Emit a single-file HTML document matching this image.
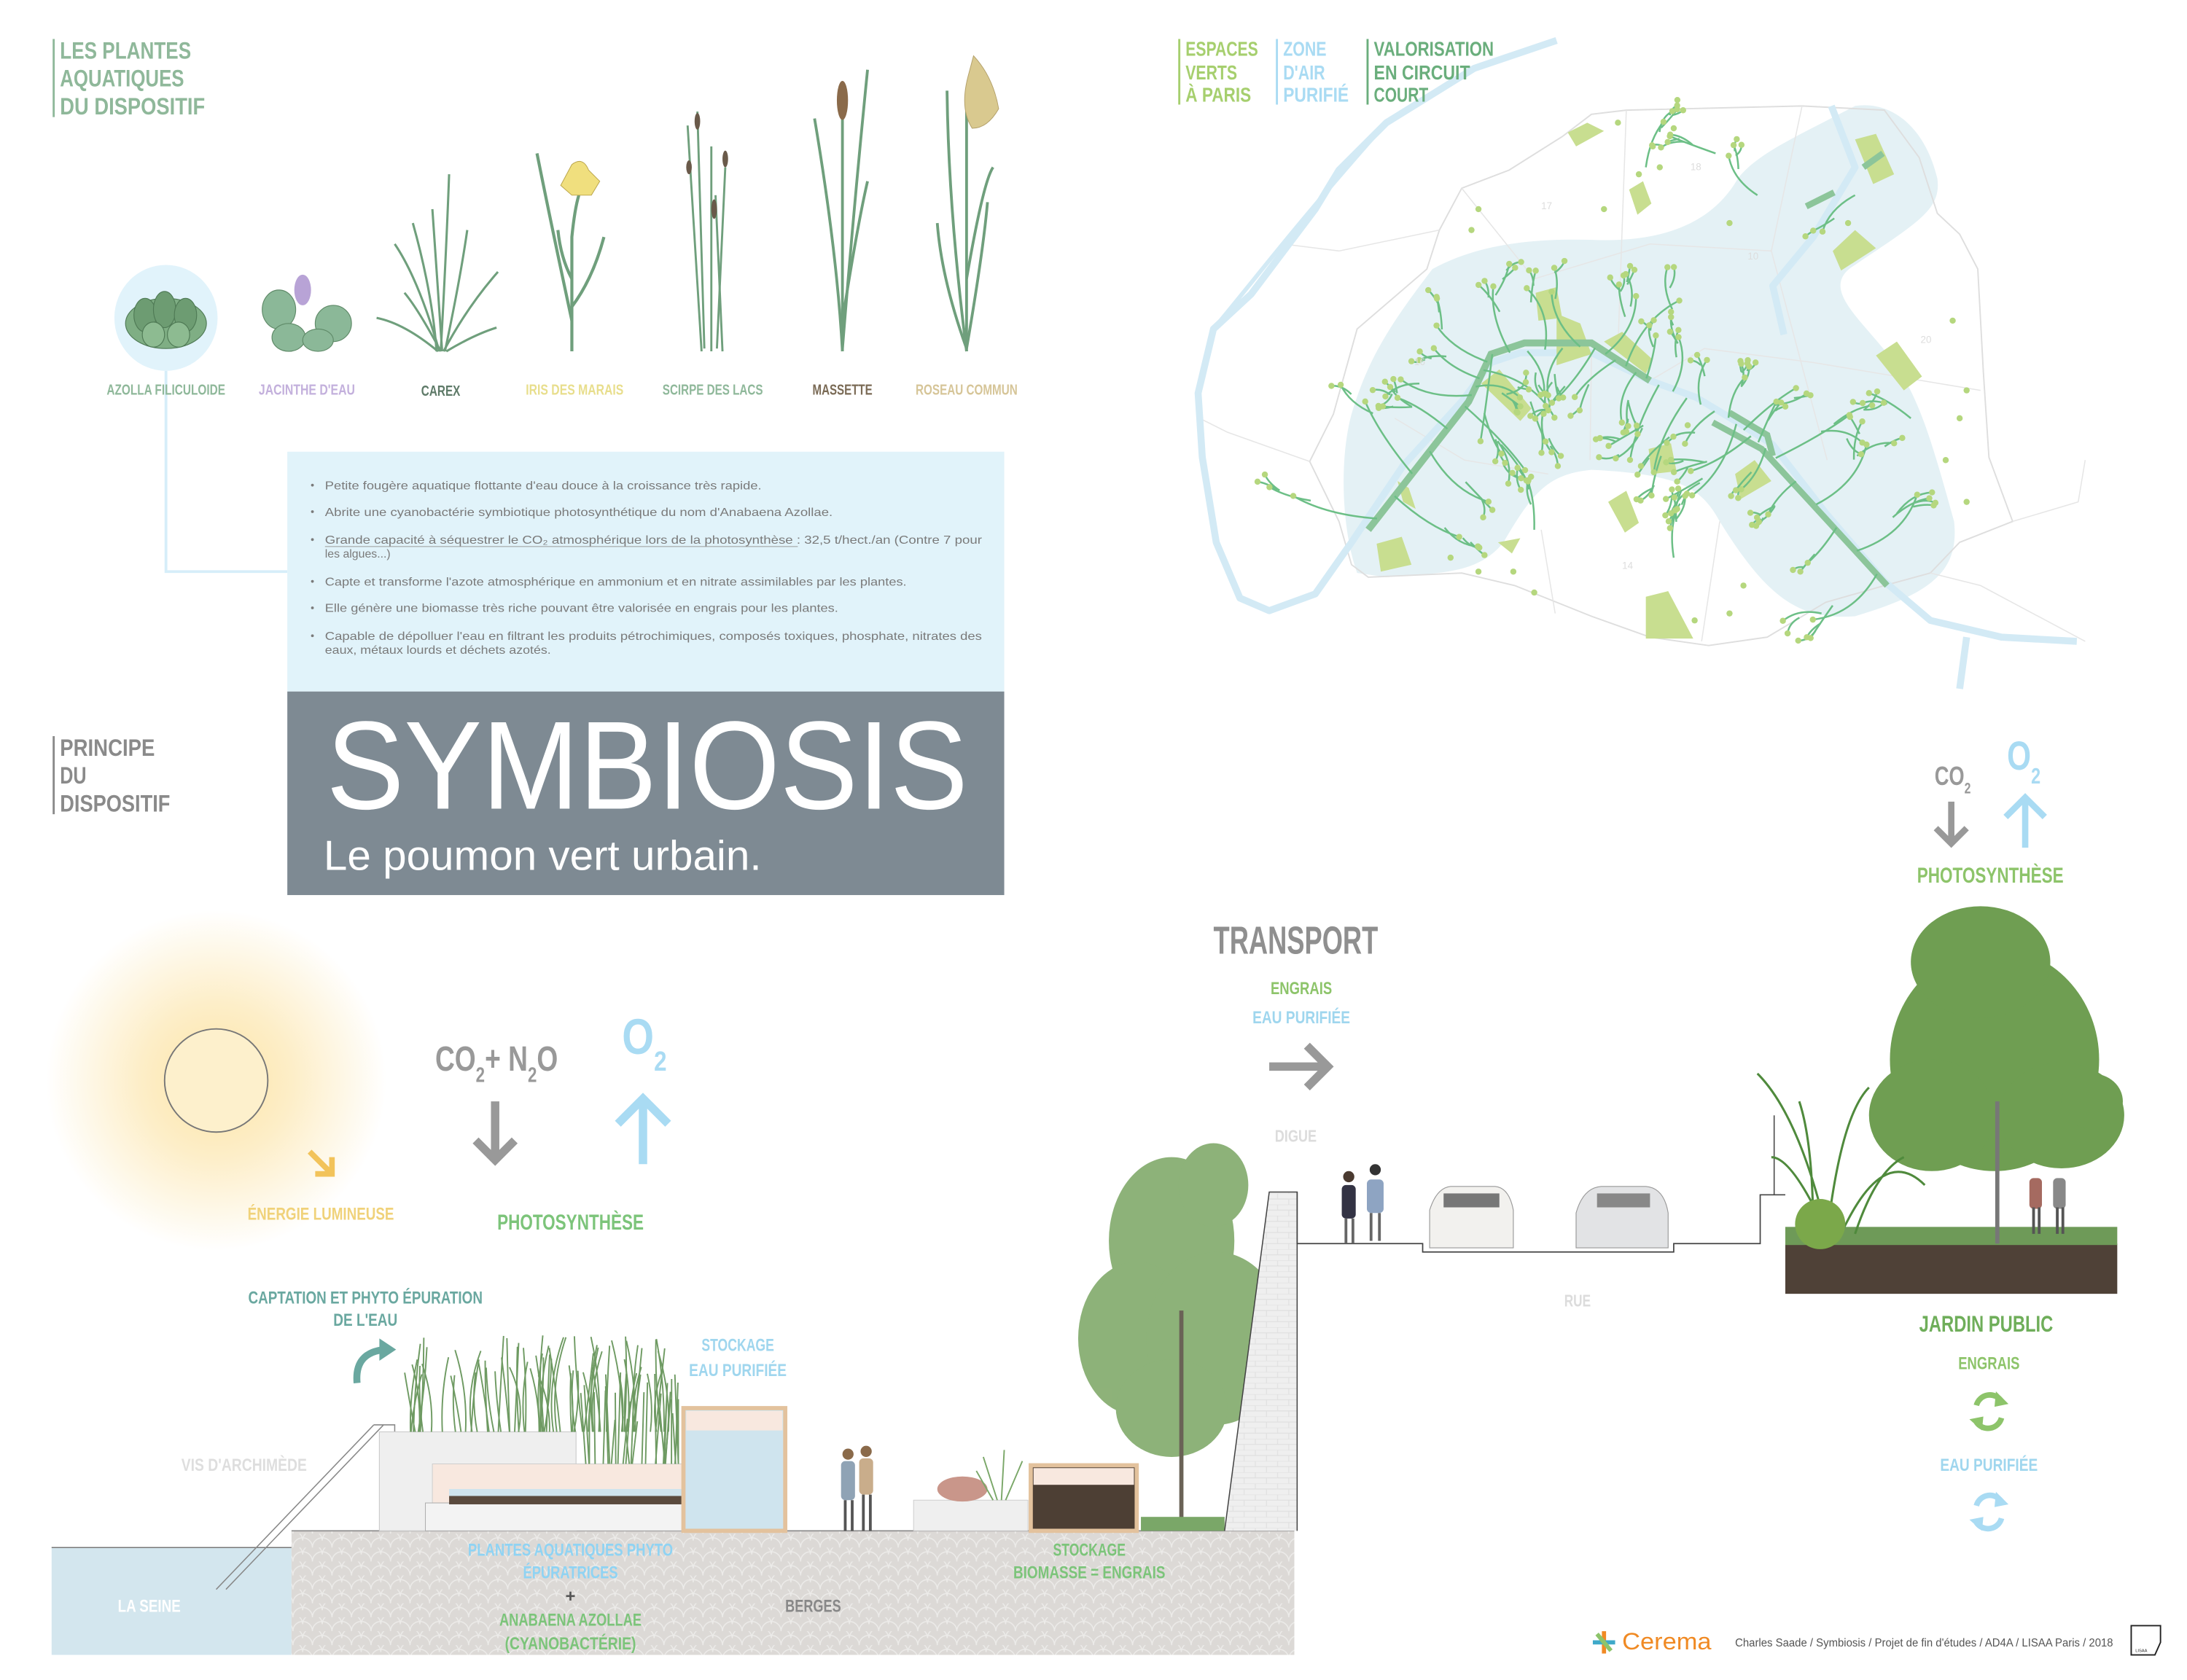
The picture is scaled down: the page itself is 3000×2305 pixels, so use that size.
<!DOCTYPE html>
<html><head><meta charset="utf-8">
<style>
html,body{margin:0;padding:0;background:#fff;}
svg{display:block;}
.c{font-family:"Liberation Sans Narrow","Liberation Sans",sans-serif;font-weight:bold;}
.l{font-family:"Liberation Sans",sans-serif;}
</style></head>
<body>
<svg id="s" width="3000" height="2305" viewBox="0 0 1568 1205" preserveAspectRatio="none" xmlns="http://www.w3.org/2000/svg">
<defs>
<radialGradient id="sun" cx="50%" cy="50%" r="50%">
<stop offset="0" stop-color="#fde4a6"/><stop offset="0.45" stop-color="#fdeec8"/><stop offset="1" stop-color="#ffffff"/>
</radialGradient>
<pattern id="pav" width="14" height="10" patternUnits="userSpaceOnUse">
<rect width="14" height="10" fill="#dcd9d6"/>
<path d="M0 10 A7 7 0 0 1 14 10 M-7 5 A7 7 0 0 1 7 5 M7 5 A7 7 0 0 1 21 5" fill="none" stroke="#ecebe9" stroke-width="0.8"/>
</pattern>
<pattern id="brick" width="16" height="8" patternUnits="userSpaceOnUse">
<rect width="16" height="8" fill="#efefef"/><path d="M0 0H16M0 4H16M4 0V4M12 4V8" stroke="#e0e0e0" stroke-width="0.6"/>
</pattern>
</defs>

<!-- TOP LEFT HEADER -->
<line x1="38.5" y1="28" x2="38.5" y2="84" stroke="#8fb89a" stroke-width="1.5"/>
<g class="c" fill="#8fb89a" font-size="17">
<text x="43" y="42" textLength="94" lengthAdjust="spacingAndGlyphs">LES PLANTES</text>
<text x="43" y="62" textLength="89" lengthAdjust="spacingAndGlyphs">AQUATIQUES</text>
<text x="43" y="82" textLength="104" lengthAdjust="spacingAndGlyphs">DU DISPOSITIF</text>
</g>

<!-- azolla -->
<ellipse cx="119" cy="228" rx="37" ry="38" fill="#e1f3fb"/>
<g fill="#6d9c72" stroke="#4f7a55" stroke-width="0.6">
<ellipse cx="119" cy="232" rx="29" ry="18" fill="#7fae84"/>
<ellipse cx="104" cy="226" rx="8" ry="12"/><ellipse cx="118" cy="222" rx="8" ry="13"/><ellipse cx="133" cy="226" rx="8" ry="12"/>
<ellipse cx="110" cy="240" rx="8" ry="9" fill="#8dbb91"/><ellipse cx="128" cy="240" rx="8" ry="9" fill="#8dbb91"/>
</g>
<polyline points="119,266 119,410 206,410" fill="none" stroke="#d6eef9" stroke-width="2"/>

<!-- jacinthe -->
<g stroke="#5f8a68" stroke-width="0.6" fill="#8bb898">
<ellipse cx="200" cy="222" rx="12" ry="14"/><ellipse cx="239" cy="232" rx="13" ry="13"/><ellipse cx="207" cy="242" rx="12" ry="10"/><ellipse cx="228" cy="244" rx="11" ry="8"/>
</g>
<ellipse cx="217" cy="208" rx="6" ry="11" fill="#b8a3d6"/>
<!-- carex -->
<g stroke="#6f9f7c" stroke-width="1.6" fill="none">
<path d="M315 252 Q300 200 283 175"/><path d="M316 252 Q320 180 322 125"/><path d="M317 252 Q312 180 310 150"/>
<path d="M318 252 Q335 220 357 195"/><path d="M314 252 Q290 232 270 228"/><path d="M319 252 Q330 200 335 165"/>
<path d="M316 252 Q300 222 290 210"/><path d="M320 252 Q340 240 356 235"/><path d="M313 252 Q310 210 296 160"/>
</g>
<!-- iris -->
<g stroke="#6f9f7c" stroke-width="2.2" fill="none">
<path d="M410 252 L410 170 Q412 150 415 140"/><path d="M410 230 Q395 160 385 110"/><path d="M410 220 Q425 200 433 170"/><path d="M410 200 Q402 185 400 165"/>
</g>
<path d="M410 118 Q418 112 422 122 L430 130 L424 140 L410 140 L402 133 Z" fill="#f0df7e" stroke="#b9a44a" stroke-width="0.5"/>
<!-- scirpe -->
<g stroke="#6f9f7c" stroke-width="1.5" fill="none">
<path d="M505 250 L500 80"/><path d="M510 252 L510 105"/><path d="M514 250 L520 120"/><path d="M503 252 L493 90"/><path d="M518 252 L513 140"/>
</g>
<g fill="#6a5a4a"><ellipse cx="500" cy="87" rx="2" ry="6"/><ellipse cx="512" cy="150" rx="2" ry="7"/><ellipse cx="520" cy="114" rx="2" ry="6"/><ellipse cx="494" cy="120" rx="2" ry="5"/></g>
<!-- massette -->
<g stroke="#6f9f7c" stroke-width="2" fill="none">
<path d="M604 252 L604 75"/><path d="M604 252 Q600 180 584 85"/><path d="M604 250 Q612 150 622 50"/><path d="M604 230 Q615 160 622 130"/>
</g>
<ellipse cx="604" cy="72" rx="4" ry="14" fill="#8a6a4a"/>
<!-- roseau -->
<g stroke="#6f9f7c" stroke-width="2" fill="none">
<path d="M693 252 L693 80"/><path d="M693 252 Q680 150 679 65"/><path d="M693 250 Q705 180 708 145"/><path d="M693 250 Q675 200 672 160"/><path d="M693 200 Q705 130 712 120"/>
</g>
<path d="M698 40 Q712 55 716 78 Q708 92 697 92 Q688 78 694 55 Z" fill="#d9c98f" stroke="#b3a06a" stroke-width="0.5"/>

<g class="c" font-size="10.5" text-anchor="middle">
<text x="119" y="283" fill="#8fb89a" textLength="85" lengthAdjust="spacingAndGlyphs">AZOLLA FILICULOIDE</text>
<text x="220" y="283" fill="#c3b0dc" textLength="69" lengthAdjust="spacingAndGlyphs">JACINTHE D'EAU</text>
<text x="316" y="284" fill="#5e7a68" textLength="28" lengthAdjust="spacingAndGlyphs">CAREX</text>
<text x="412" y="283" fill="#e8de8c" textLength="70" lengthAdjust="spacingAndGlyphs">IRIS DES MARAIS</text>
<text x="511" y="283" fill="#8fb89a" textLength="72" lengthAdjust="spacingAndGlyphs">SCIRPE DES LACS</text>
<text x="604" y="283" fill="#7a6a55" textLength="43" lengthAdjust="spacingAndGlyphs">MASSETTE</text>
<text x="693" y="283" fill="#d6c598" textLength="73" lengthAdjust="spacingAndGlyphs">ROSEAU COMMUN</text>
</g>

<!-- INFO BOX -->
<rect x="206" y="324" width="514" height="172" fill="#e1f3fa"/>
<g class="l" font-size="8.3" fill="#7a7a7a">
<circle cx="224" cy="348" r="1"/><text x="233" y="351" textLength="313" lengthAdjust="spacingAndGlyphs">Petite fougère aquatique flottante d'eau douce à la croissance très rapide.</text>
<circle cx="224" cy="367" r="1"/><text x="233" y="370" textLength="364" lengthAdjust="spacingAndGlyphs">Abrite une cyanobactérie symbiotique photosynthétique du nom d'Anabaena Azollae.</text>
<circle cx="224" cy="387" r="1"/><text x="233" y="390" textLength="471" lengthAdjust="spacingAndGlyphs">Grande capacité à séquestrer le CO₂ atmosphérique lors de la photosynthèse : 32,5 t/hect./an (Contre 7 pour</text>
<line x1="233" y1="392" x2="572" y2="392" stroke="#9a9a9a" stroke-width="0.5"/>
<text x="233" y="400">les algues...)</text>
<circle cx="224" cy="417" r="1"/><text x="233" y="420" textLength="417" lengthAdjust="spacingAndGlyphs">Capte et transforme l'azote atmosphérique en ammonium et en nitrate assimilables par les plantes.</text>
<circle cx="224" cy="436" r="1"/><text x="233" y="439" textLength="368" lengthAdjust="spacingAndGlyphs">Elle génère une biomasse très riche pouvant être valorisée en engrais pour les plantes.</text>
<circle cx="224" cy="456" r="1"/><text x="233" y="459" textLength="471" lengthAdjust="spacingAndGlyphs">Capable de dépolluer l'eau en filtrant les produits pétrochimiques, composés toxiques, phosphate, nitrates des</text>
<text x="233" y="469" textLength="162" lengthAdjust="spacingAndGlyphs">eaux, métaux lourds et déchets azotés.</text>
</g>
<rect x="206" y="496" width="514" height="146" fill="#7e8a93"/>
<text class="l" x="234" y="580" font-size="90" fill="#fff" textLength="460" lengthAdjust="spacingAndGlyphs">SYMBIOSIS</text>
<text class="l" x="232" y="624" font-size="30" fill="#fff" textLength="314" lengthAdjust="spacingAndGlyphs">Le poumon vert urbain.</text>

<!-- PRINCIPE -->
<line x1="38.5" y1="528" x2="38.5" y2="584" stroke="#8a8a8a" stroke-width="1.5"/>
<g class="c" fill="#8a8a8a" font-size="17">
<text x="43" y="542" textLength="68" lengthAdjust="spacingAndGlyphs">PRINCIPE</text>
<text x="43" y="562" textLength="19" lengthAdjust="spacingAndGlyphs">DU</text>
<text x="43" y="582" textLength="79" lengthAdjust="spacingAndGlyphs">DISPOSITIF</text>
</g>

<!-- MAP -->
<g id="map">
<path d="M973,411 C962,380 960,330 969,297 C980,260 994,236 1027,193 C1060,175 1099,171 1140,172 C1183,174 1225,165 1246,128 C1260,110 1288,98 1330,76 C1355,72 1380,90 1389,128 C1392,150 1376,159 1330,190 C1305,205 1330,225 1351,251 C1375,280 1384,313 1401,374 C1405,410 1384,426 1330,442 C1290,445 1267,429 1233,374 C1220,350 1204,340 1141,337 C1110,340 1099,353 1078,389 C1060,411 1036,411 994,414 Z" fill="#e4f1f5"/>
<path d="M1032,165 L1048,135 L1082,122 L1120,98 L1141,82 L1166,79 L1292,76 L1351,79 L1376,113 L1389,153 L1405,168 L1418,193 L1422,267 L1426,328 L1443,374 L1405,389 L1384,411 L1351,420 L1309,432 L1267,457 L1225,463 L1183,457 L1141,442 L1086,420 L1048,411 L981,414 L969,405 L960,374 L939,331 L956,297 L973,236 L1023,193 Z" fill="none" stroke="#dedede" stroke-width="1"/>
<g stroke="#e6e6e6" stroke-width="0.8" fill="none">
<path d="M1166,79 L1160,250 M1048,135 L1100,200 L1183,175 L1270,180 M1032,165 L960,180 L920,175 M939,331 L880,310 L860,300 M1141,253 L1140,330 M1233,374 L1220,460 M1270,180 L1310,330 M1183,273 L1222,250 L1300,260 L1420,280 M1292,76 L1270,180 M1443,374 L1490,360 L1495,330 M1384,411 L1420,420 L1495,460 M1105,380 L1115,440 M1000,300 L1050,330 L1110,340"/>
</g>
<path id="river" d="M1116,29 L1057,49 L994,88 L960,122 L943,150 L897,211 L870,236 L859,282 L862,328 L872,389 L889,429 L910,438 L943,426 L969,389 L1006,334 L1048,288 L1069,260 L1090,253 L1141,253 L1183,273 L1216,285 L1246,303 L1271,319 L1309,368 L1351,417 L1384,445 L1435,457 L1489,460 M1410,457 L1405,494 M1313,76 L1330,120 L1300,170 L1271,205 L1279,240" fill="none" stroke="#d3eaf5" stroke-width="5" stroke-linejoin="round"/>
<path d="M870,236 C900,200 930,160 994,88" fill="none" stroke="#d3eaf5" stroke-width="3"/>
<g fill="#c8de90">
<polygon points="1124,95 1138,88 1150,94 1130,105"/><polygon points="1168,136 1178,130 1184,146 1174,154"/>
<polygon points="1101,210 1116,206 1120,228 1103,230"/><polygon points="1116,225 1133,232 1141,254 1116,262"/>
<polygon points="1062,275 1075,265 1098,293 1090,302"/><polygon points="1150,245 1163,238 1185,258 1180,268"/>
<polygon points="1182,322 1198,318 1202,338 1184,340"/><polygon points="1153,360 1166,352 1175,375 1165,382"/>
<polygon points="1244,340 1258,330 1270,345 1248,358"/><polygon points="1345,255 1360,245 1378,270 1365,280"/>
<polygon points="1330,100 1345,96 1358,125 1343,132"/><polygon points="1314,180 1330,165 1345,178 1320,194"/>
<polygon points="987,390 1005,385 1012,405 990,410"/><polygon points="1074,389 1090,386 1084,397"/>
<polygon points="1180,428 1196,424 1214,458 1180,458"/><polygon points="1002,345 1010,350 1015,365 1006,360"/>
</g>
<path d="M981,380 L1053,288 L1069,254 L1093,246 L1141,246 L1183,273" fill="none" stroke="#8cc59a" stroke-width="5"/>
<path d="M1240,296 L1267,312 L1271,327 M1228,303 L1263,322 L1353,420" fill="none" stroke="#8cc59a" stroke-width="4.5"/>
<path d="M1295,148 L1315,138 M1336,120 L1350,110" stroke="#8cc59a" stroke-width="4.5"/>
<g id="br" fill="none" stroke="#6cbf86" stroke-width="1.3"></g>
<g id="dots" fill="#b5d77e"></g>
<text x="1105" y="150" font-size="7" fill="#ddd" class="l">17</text><text x="1212" y="122" font-size="7" fill="#ddd" class="l">18</text>
<text x="1253" y="186" font-size="7" fill="#ddd" class="l">10</text><text x="1377" y="246" font-size="7" fill="#ddd" class="l">20</text>
<text x="1014" y="262" font-size="7" fill="#ddd" class="l">16</text><text x="1163" y="408" font-size="7" fill="#ddd" class="l">14</text>
</g>
<!-- map legend -->
<line x1="845.5" y1="28" x2="845.5" y2="75" stroke="#a6cf6e" stroke-width="1.5"/>
<line x1="915.5" y1="28" x2="915.5" y2="75" stroke="#a9dbf3" stroke-width="1.5"/>
<line x1="980.5" y1="28" x2="980.5" y2="75" stroke="#6aae7c" stroke-width="1.5"/>
<g class="c" font-size="14.5">
<g fill="#a6cf6e"><text x="850" y="40" textLength="52" lengthAdjust="spacingAndGlyphs">ESPACES</text><text x="850" y="57" textLength="37" lengthAdjust="spacingAndGlyphs">VERTS</text><text x="850" y="73" textLength="47" lengthAdjust="spacingAndGlyphs">À PARIS</text></g>
<g fill="#a9dbf3"><text x="920" y="40" textLength="31" lengthAdjust="spacingAndGlyphs">ZONE</text><text x="920" y="57" textLength="30" lengthAdjust="spacingAndGlyphs">D'AIR</text><text x="920" y="73" textLength="47" lengthAdjust="spacingAndGlyphs">PURIFIÉ</text></g>
<g fill="#6aae7c"><text x="985" y="40" textLength="86" lengthAdjust="spacingAndGlyphs">VALORISATION</text><text x="985" y="57" textLength="69" lengthAdjust="spacingAndGlyphs">EN CIRCUIT</text><text x="985" y="73" textLength="39" lengthAdjust="spacingAndGlyphs">COURT</text></g>
</g>

<!-- SUN -->
<circle cx="155" cy="775" r="122" fill="url(#sun)"/>
<circle cx="155" cy="775" r="37" fill="#fdf0cc" stroke="#777" stroke-width="1"/>
<path d="M222 826 L238 842 M238 830 V842 H226" stroke="#f2c35a" stroke-width="4" fill="none"/>
<text class="c" x="230" y="875" font-size="12.5" fill="#f0d27a" text-anchor="middle" textLength="105" lengthAdjust="spacingAndGlyphs">ÉNERGIE LUMINEUSE</text>
<text class="c" x="312" y="768" font-size="25" fill="#999" textLength="88" lengthAdjust="spacingAndGlyphs">CO<tspan font-size="15" dy="8">2</tspan><tspan dy="-8">+ N</tspan><tspan font-size="15" dy="8">2</tspan><tspan dy="-8">O</tspan></text>
<text class="c" x="446" y="756" font-size="36" fill="#a9dbf3" textLength="32" lengthAdjust="spacingAndGlyphs">O<tspan font-size="20" dy="12">2</tspan></text>
<path d="M355 790 V832 M341 818 L355 832 L369 818" stroke="#999" stroke-width="6" fill="none"/>
<path d="M461 835 V788 M443 806 L461 788 L479 806" stroke="#a9dbf3" stroke-width="6" fill="none"/>
<text class="c" x="409" y="882" font-size="15.5" fill="#7cc47a" text-anchor="middle" textLength="105" lengthAdjust="spacingAndGlyphs">PHOTOSYNTHÈSE</text>

<!-- SECTION LEFT -->
<g class="c" font-size="12.5" text-anchor="middle">
<text x="262" y="935" fill="#6aa8a0" textLength="168" lengthAdjust="spacingAndGlyphs">CAPTATION ET PHYTO ÉPURATION</text>
<text x="262" y="951" fill="#6aa8a0" textLength="46" lengthAdjust="spacingAndGlyphs">DE L'EAU</text>
<text x="529" y="969" fill="#9fd6ee" textLength="52" lengthAdjust="spacingAndGlyphs">STOCKAGE</text>
<text x="529" y="987" fill="#9fd6ee" textLength="70" lengthAdjust="spacingAndGlyphs">EAU PURIFIÉE</text>
<text x="175" y="1055" fill="#dedede" textLength="90" lengthAdjust="spacingAndGlyphs">VIS D'ARCHIMÈDE</text>
</g>
<path d="M256 992 Q254 970 276 968" stroke="#6aa8a0" stroke-width="5" fill="none"/><path d="M272 960 L284 968 L272 976 Z" fill="#6aa8a0"/>

<rect x="37" y="1110" width="172" height="77" fill="#d3e6ee"/>
<line x1="37" y1="1110" x2="209" y2="1110" stroke="#777" stroke-width="0.8"/>
<rect x="209" y="1098" width="719" height="89" fill="url(#pav)"/>
<line x1="209" y1="1098" x2="928" y2="1098" stroke="#888" stroke-width="0.8"/>
<!-- screw -->
<path d="M155 1140 L268 1022 M162 1140 L275 1022 M268 1022 H283 V1029" stroke="#888" stroke-width="0.8" fill="none"/>
<rect x="272" y="1027" width="141" height="71" fill="#efefef" stroke="#ccc" stroke-width="0.6"/>
<rect x="310" y="1050" width="180" height="28" fill="#f8e8df" stroke="#ccc" stroke-width="0.5"/>
<rect x="305" y="1078" width="188" height="20" fill="#f3f3f3" stroke="#aaa" stroke-width="0.5"/>
<rect x="322" y="1073" width="168" height="6" fill="#5a4a3e"/>
<rect x="322" y="1068" width="168" height="5" fill="#cfe4ee"/>
<g stroke="#6e9a62" stroke-width="1" fill="none" id="reeds"></g>
<rect x="490" y="1010" width="73" height="88" fill="#cfe4ee" stroke="#e3c29d" stroke-width="3"/>
<rect x="492" y="1012" width="69" height="14" fill="#f8e8df"/>
<rect x="655" y="1076" width="82" height="22" fill="#efefef" stroke="#ccc" stroke-width="0.5"/>
<rect x="739" y="1051" width="76" height="47" fill="#4d3f34" stroke="#e3c29d" stroke-width="3"/>
<rect x="741" y="1053" width="72" height="12" fill="#f8e8df"/>
<!-- people -->
<g fill="#8fa3b5"><rect x="603" y="1048" width="10" height="28" rx="3"/><rect x="616" y="1046" width="10" height="26" rx="3" fill="#c9ad8b"/></g>
<g stroke="#555" stroke-width="2"><path d="M606 1076 V1098 M611 1076 V1098 M619 1072 V1098 M624 1072 V1098"/></g>
<circle cx="608" cy="1043" r="4" fill="#8a6a4a"/><circle cx="621" cy="1041" r="4" fill="#8a6a4a"/>
<ellipse cx="690" cy="1068" rx="18" ry="9" fill="#c9968a"/>
<g stroke="#7aa768" stroke-width="1"><path d="M715 1076 L705 1045 M718 1076 L720 1040 M721 1076 L733 1048 M712 1076 L700 1055"/></g>
<!-- left tree -->
<g fill="#7aa562" opacity="0.85">
<ellipse cx="840" cy="890" rx="45" ry="60"/><ellipse cx="815" cy="960" rx="42" ry="55"/><ellipse cx="872" cy="960" rx="50" ry="62"/><ellipse cx="840" cy="1010" rx="40" ry="35"/><ellipse cx="870" cy="850" rx="25" ry="30"/>
</g>
<line x1="847" y1="1095" x2="847" y2="940" stroke="#6a6256" stroke-width="3"/>
<rect x="818" y="1088" width="60" height="10" fill="#7aa768"/>
<!-- wall -->
<polygon points="878,1098 910,855 930,855 930,1098" fill="url(#brick)"/>
<path d="M878 1098 L910 855 H930 V1098" fill="none" stroke="#444" stroke-width="0.8"/>
<text class="c" x="929" y="819" font-size="12" fill="#dcdcdc" text-anchor="middle" textLength="30" lengthAdjust="spacingAndGlyphs">DIGUE</text>

<!-- TRANSPORT -->
<text class="c" x="870" y="684" font-size="28" fill="#8f8f8f" textLength="118" lengthAdjust="spacingAndGlyphs">TRANSPORT</text>
<text class="c" x="933" y="713" font-size="12.5" fill="#8dc46a" text-anchor="middle" textLength="44" lengthAdjust="spacingAndGlyphs">ENGRAIS</text>
<text class="c" x="933" y="734" font-size="12.5" fill="#9fd6ee" text-anchor="middle" textLength="70" lengthAdjust="spacingAndGlyphs">EAU PURIFIÉE</text>
<path d="M910 765 H952 M937 750 L952 765 L937 780" stroke="#999" stroke-width="6" fill="none"/>
<!-- street -->
<polyline points="930,855 930,892 1020,892 1020,898 1200,898 1200,892 1262,892 1262,857 1280,857" fill="none" stroke="#444" stroke-width="0.9"/>
<line x1="1272" y1="800" x2="1272" y2="857" stroke="#444" stroke-width="0.8"/>
<text class="c" x="1131" y="937" font-size="12" fill="#dcdcdc" text-anchor="middle" textLength="19" lengthAdjust="spacingAndGlyphs">RUE</text>
<g fill="#334"><rect x="962" y="850" width="10" height="24" rx="3"/><rect x="980" y="846" width="12" height="24" rx="3" fill="#8ea4c2"/></g>
<g stroke="#666" stroke-width="2"><path d="M965 874 V892 M970 874 V892 M983 870 V890 M989 870 V890"/></g>
<circle cx="967" cy="844" r="4" fill="#4a3a30"/><circle cx="986" cy="839" r="4" fill="#333"/>
<path d="M1025 895 V868 Q1030 852 1040 851 H1072 Q1082 852 1085 868 V895 Z" fill="#f2f1ee" stroke="#999" stroke-width="0.6"/>
<rect x="1035" y="856" width="40" height="10" fill="#777"/>
<path d="M1130 895 V870 Q1135 852 1148 851 H1180 Q1193 852 1196 870 V895 Z" fill="#e2e3e5" stroke="#999" stroke-width="0.6"/>
<rect x="1145" y="856" width="38" height="10" fill="#888"/>

<!-- RIGHT GARDEN -->
<rect x="1280" y="892" width="238" height="36" fill="#4f4137"/>
<rect x="1280" y="880" width="238" height="13" fill="#6e9a58"/>
<g fill="#6f9e52">
<ellipse cx="1430" cy="760" rx="75" ry="80"/><ellipse cx="1385" cy="800" rx="45" ry="40"/><ellipse cx="1478" cy="800" rx="45" ry="38"/><ellipse cx="1420" cy="690" rx="50" ry="40"/><ellipse cx="1500" cy="790" rx="22" ry="20"/>
</g>
<line x1="1432" y1="892" x2="1432" y2="790" stroke="#777" stroke-width="3"/>
<g stroke="#4f8a3c" stroke-width="1.6" fill="none">
<path d="M1310 885 Q1290 800 1260 770 M1310 885 Q1320 800 1340 780 M1310 885 Q1285 830 1270 830 M1320 885 Q1350 820 1380 850 M1330 885 Q1345 840 1365 830 M1300 885 Q1300 820 1290 790"/>
</g>
<circle cx="1305" cy="878" r="18" fill="#7ba84a"/>
<g fill="#a56a60"><rect x="1455" y="845" width="9" height="22" rx="3"/><rect x="1472" y="845" width="9" height="22" rx="3" fill="#888"/></g>
<g stroke="#555" stroke-width="2"><path d="M1458 866 V885 M1462 866 V885 M1475 866 V885 M1479 866 V885"/></g>
<text class="c" x="1424" y="955" font-size="16.5" fill="#6fae5a" text-anchor="middle" textLength="96" lengthAdjust="spacingAndGlyphs">JARDIN PUBLIC</text>
<text class="c" x="1426" y="982" font-size="12.5" fill="#8dc46a" text-anchor="middle" textLength="44" lengthAdjust="spacingAndGlyphs">ENGRAIS</text>
<text class="c" x="1426" y="1055" font-size="12.5" fill="#9fd6ee" text-anchor="middle" textLength="70" lengthAdjust="spacingAndGlyphs">EAU PURIFIÉE</text>
<g fill="none" stroke-width="4">
<path d="M1417 1008 A10 10 0 0 1 1435 1005" stroke="#8dc46a"/><path d="M1435 1017 A10 10 0 0 1 1417 1020" stroke="#8dc46a"/>
<path d="M1417 1080 A10 10 0 0 1 1435 1077" stroke="#a9dbf3"/><path d="M1435 1089 A10 10 0 0 1 1417 1092" stroke="#a9dbf3"/>
</g>
<g><path d="M1431 998 L1440 1007 L1430 1009Z" fill="#8dc46a"/><path d="M1421 1026 L1412 1018 L1422 1016Z" fill="#8dc46a"/>
<path d="M1431 1070 L1440 1079 L1430 1081Z" fill="#a9dbf3"/><path d="M1421 1098 L1412 1090 L1422 1088Z" fill="#a9dbf3"/></g>
<!-- right top photosynthese -->
<text class="c" x="1387" y="563" font-size="19" fill="#999" textLength="26" lengthAdjust="spacingAndGlyphs">CO<tspan font-size="11" dy="6">2</tspan></text>
<text class="c" x="1439" y="552" font-size="29" fill="#a9dbf3" textLength="24" lengthAdjust="spacingAndGlyphs">O<tspan font-size="16" dy="10">2</tspan></text>
<path d="M1399 575 V605 M1388 594 L1399 605 L1410 594" stroke="#999" stroke-width="4.5" fill="none"/>
<path d="M1452 608 V572 M1438 586 L1452 572 L1466 586" stroke="#a9dbf3" stroke-width="4.5" fill="none"/>
<text class="c" x="1427" y="633" font-size="15.5" fill="#8dc46a" text-anchor="middle" textLength="105" lengthAdjust="spacingAndGlyphs">PHOTOSYNTHÈSE</text>

<!-- bottom labels -->
<g class="c" font-size="12.5" text-anchor="middle">
<text x="107" y="1156" fill="#fff" textLength="45" lengthAdjust="spacingAndGlyphs">LA SEINE</text>
<text x="409" y="1116" fill="#8fd3f3" textLength="147" lengthAdjust="spacingAndGlyphs">PLANTES AQUATIQUES PHYTO</text>
<text x="409" y="1132" fill="#8fd3f3" textLength="68" lengthAdjust="spacingAndGlyphs">ÉPURATRICES</text>
<text x="409" y="1149" fill="#555">+</text>
<text x="409" y="1166" fill="#7cc47a" textLength="102" lengthAdjust="spacingAndGlyphs">ANABAENA AZOLLAE</text>
<text x="409" y="1183" fill="#7cc47a" textLength="94" lengthAdjust="spacingAndGlyphs">(CYANOBACTÉRIE)</text>
<text x="583" y="1156" fill="#888" textLength="40" lengthAdjust="spacingAndGlyphs">BERGES</text>
<text x="781" y="1116" fill="#7cc47a" textLength="52" lengthAdjust="spacingAndGlyphs">STOCKAGE</text>
<text x="781" y="1132" fill="#7cc47a" textLength="109" lengthAdjust="spacingAndGlyphs">BIOMASSE = ENGRAIS</text>
</g>

<!-- FOOTER -->
<g stroke-width="3"><path d="M1150 1170 V1186" stroke="#f08a24"/><path d="M1142 1178 H1158" stroke="#3fa9c9"/><path d="M1145 1172 L1155 1184" stroke="#8dc46a"/></g>
<text class="l" x="1163" y="1183" font-size="17" fill="#f08a24" textLength="64" lengthAdjust="spacingAndGlyphs">Cerema</text>
<text class="l" x="1244" y="1181" font-size="8" fill="#555" textLength="271" lengthAdjust="spacingAndGlyphs">Charles Saade / Symbiosis / Projet de fin d'études / AD4A / LISAA Paris / 2018</text>
<path d="M1528 1166 H1549 V1178 L1545 1187 H1528 Z" fill="none" stroke="#222" stroke-width="1"/>
<text class="l" x="1531" y="1185" font-size="3" fill="#222">LISAA</text>
</svg>
<script>
(function(){
var NS="http://www.w3.org/2000/svg";
var seed=7;function r(){seed=(seed*16807)%2147483647;return (seed-1)/2147483646;}
var br=document.getElementById("br"),dots=document.getElementById("dots");
var axis=[[981,380],[1053,288],[1069,254],[1141,248],[1183,273],[1240,300],[1270,325],[1353,420]];
function pt(t){var n=axis.length-1,i=Math.min(n-1,Math.floor(t*n)),f=t*n-i;return [axis[i][0]+(axis[i+1][0]-axis[i][0])*f,axis[i][1]+(axis[i+1][1]-axis[i][1])*f,axis[i+1][0]-axis[i][0],axis[i+1][1]-axis[i][1]];}
function branch(x,y,a,len,depth){
 var ex=x+Math.cos(a)*len,ey=y+Math.sin(a)*len;
 var ca=a+(r()-0.5)*0.9,cx=x+Math.cos(ca)*len*0.6,cy=y+Math.sin(ca)*len*0.6;
 var p=document.createElementNS(NS,"path");p.setAttribute("d","M"+x+" "+y+" Q"+cx+" "+cy+" "+ex+" "+ey);br.appendChild(p);
 if(depth>0){var k=1+Math.floor(r()*2);for(var j=0;j<k;j++){var m=0.5+r()*0.4;branch(x+(ex-x)*m,y+(ey-y)*m,a+(r()-0.5)*1.6,len*0.5,depth-1);}}
 var c=document.createElementNS(NS,"circle");c.setAttribute("cx",ex);c.setAttribute("cy",ey);c.setAttribute("r",2.2);dots.appendChild(c);
}
for(var i=0;i<40;i++){var t=(i+0.5)/40,P=pt(t),side=(i%2?1:-1),base=Math.atan2(P[3],P[2])+side*Math.PI/2;branch(P[0],P[1],base+(r()-0.5)*0.8,30+r()*35,2);}
var extra=[[1260,140,-2.2],[1330,140,2.3],[1370,300,-2.6],[1230,110,3.5],[1100,380,-1.7],[1200,400,-1.5],[1180,120,-1.2]];
extra.forEach(function(e){branch(e[0],e[1],e[2],35,2);});
var sd=[[1160,88],[1185,105],[1190,120],[1175,125],[1200,92],[1150,150],[1240,160],[1060,150],[1055,165],[1400,230],[1410,280],[1405,300],[1395,330],[1410,360],[1085,410],[1100,425],[1240,440],[1250,420],[1215,445],[1325,160],[1210,305],[1040,400],[1060,410]];
sd.forEach(function(d){var c=document.createElementNS(NS,"circle");c.setAttribute("cx",d[0]);c.setAttribute("cy",d[1]);c.setAttribute("r",2.2);dots.appendChild(c);});
var rd=document.getElementById("reeds");
for(var k=0;k<70;k++){var x=292+r()*190,h=40+r()*30,p=document.createElementNS(NS,"path");p.setAttribute("d","M"+x+" 1027 Q"+(x+(r()-0.5)*10)+" "+(1027-h/2)+" "+(x+(r()-0.5)*16)+" "+(1027-h));rd.appendChild(p);}
for(var k=0;k<30;k++){var x=420+r()*68,h=30+r()*40,p=document.createElementNS(NS,"path");p.setAttribute("d","M"+x+" 1050 L"+(x+(r()-0.5)*8)+" "+(1050-h));rd.appendChild(p);}
})();
</script>
</body></html>
